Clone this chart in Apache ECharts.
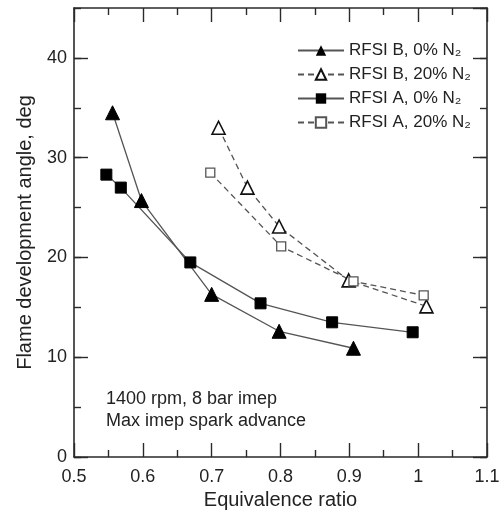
<!DOCTYPE html>
<html>
<head>
<meta charset="utf-8">
<script src="https://cdn.jsdelivr.net/npm/echarts@6/dist/echarts.min.js"></script>
<style>html,body{margin:0;padding:0;background:#fff}#c{width:501px;height:511px}</style>
</head>
<body>
<div id="c"></div>
<script>
const seriesNames = ['RFSI B, 0% N\u2082', 'RFSI B, 20% N\u2082', 'RFSI A, 0% N\u2082', 'RFSI A, 20% N\u2082'];
const bZeroX = [0.556, 0.598, 0.700, 0.798, 0.906];
const bZeroY = [34.5, 25.7, 16.3, 12.6, 10.9];
const bTwentyX = [0.710, 0.752, 0.798, 0.899, 1.012];
const bTwentyY = [33.0, 27.0, 23.1, 17.7, 15.1];
const aZeroX = [0.547, 0.568, 0.669, 0.771, 0.875, 0.992];
const aZeroY = [28.3, 27.0, 19.5, 15.4, 13.5, 12.5];
const aTwentyX = [0.698, 0.801, 0.906, 1.008];
const aTwentyY = [28.5, 21.1, 17.6, 16.2];
const annotationLines = ['1400 rpm, 8 bar imep', 'Max imep spark advance'];
const xTitle = 'Equivalence ratio';
const yTitle = 'Flame development angle, deg';

const pairs = (xs, ys) => xs.map((x, i) => [x, ys[i]]);
const FONT = 'Liberation Sans';
const axisCol = '#2a2a2a';
const lineCol = '#555';

function xAx(pos, labels) {
  return {
    type: 'value', position: pos, min: 0.5, max: 1.1, interval: 0.1,
    name: labels ? xTitle : '', nameLocation: 'middle', nameGap: 29,
    nameTextStyle: {fontFamily: FONT, fontSize: 20, color: '#222'},
    axisLine: {show: true, onZero: false, lineStyle: {color: axisCol, width: 1.6}},
    axisTick: {show: true, inside: true, length: 14, lineStyle: {color: axisCol, width: 1.4}},
    minorTick: {show: true, splitNumber: 2, length: 7, lineStyle: {color: axisCol, width: 1.4}},
    axisLabel: {show: labels, margin: 11, fontFamily: FONT, fontSize: 18, color: '#222'},
    splitLine: {show: false}, minorSplitLine: {show: false}
  };
}
function yAx(pos, interval, len, labels, line) {
  return {
    type: 'value', position: pos, min: 0, max: 45, interval: interval,
    name: labels ? yTitle : '', nameLocation: 'middle', nameGap: 39,
    nameTextStyle: {fontFamily: FONT, fontSize: 20, color: '#222'},
    axisLine: {show: line, onZero: false, lineStyle: {color: axisCol, width: 1.6}},
    axisTick: {show: true, inside: true, length: len, lineStyle: {color: axisCol, width: 1.4}},
    axisLabel: {show: labels, showMaxLabel: false, margin: 7, fontFamily: FONT, fontSize: 18, color: '#222'},
    splitLine: {show: false}
  };
}

const chart = echarts.init(document.getElementById('c'), null, {renderer: 'canvas'});
chart.setOption({
  animation: false,
  backgroundColor: '#fff',
  grid: {left: 74, right: 14, top: 8, bottom: 54, containLabel: false, outerBoundsMode: 'none'},
  title: {
    text: annotationLines.join('\n'), left: 101, top: 383,
    textStyle: {fontFamily: FONT, fontSize: 18, fontWeight: 'normal', color: '#222', lineHeight: 22}
  },
  legend: {
    orient: 'vertical', left: 292, top: 37, itemWidth: 46, itemHeight: 13, itemGap: 7,
    textStyle: {fontFamily: FONT, fontSize: 17, color: '#222'},
    data: seriesNames
  },
  xAxis: [xAx('bottom', true), xAx('top', false)],
  yAxis: [yAx('left', 10, 14, true, true), yAx('left', 5, 7, false, false),
          yAx('right', 10, 14, false, true), yAx('right', 5, 7, false, false)],
  series: [
    {name: seriesNames[0], type: 'line', data: pairs(bZeroX, bZeroY), symbol: 'triangle', symbolSize: 14,
     lineStyle: {color: lineCol, width: 1.3}, itemStyle: {color: '#000', borderColor: '#000'}},
    {name: seriesNames[1], type: 'line', data: pairs(bTwentyX, bTwentyY), symbol: 'triangle', symbolSize: 13,
     lineStyle: {color: lineCol, width: 1.3, type: [6, 4]}, itemStyle: {color: '#fff', borderColor: '#111', borderWidth: 1.6}},
    {name: seriesNames[2], type: 'line', data: pairs(aZeroX, aZeroY), symbol: 'rect', symbolSize: 11,
     lineStyle: {color: lineCol, width: 1.3}, itemStyle: {color: '#000', borderColor: '#000'}},
    {name: seriesNames[3], type: 'line', data: pairs(aTwentyX, aTwentyY), symbol: 'rect', symbolSize: 9,
     lineStyle: {color: lineCol, width: 1.3, type: [6, 4]}, itemStyle: {color: '#fff', borderColor: '#555', borderWidth: 1.3}}
  ]
});
</script>
</body>
</html>
